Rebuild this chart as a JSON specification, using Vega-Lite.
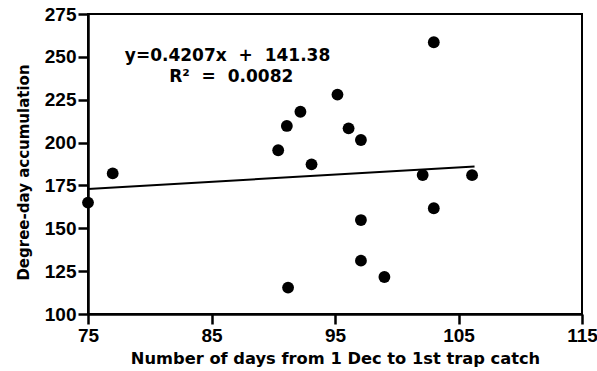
{
  "$schema": "https://vega.github.io/schema/vega-lite/v6.json",
  "width": 494,
  "height": 300,
  "autosize": {"type": "none"},
  "padding": {"left": 88, "top": 14, "right": 15, "bottom": 57},
  "background": "white",
  "config": {
    "view": {"stroke": "black", "strokeWidth": 2},
    "font": "DejaVu Sans",
    "axis": {
      "domainColor": "black", "domainWidth": 2.5, "tickColor": "black", "tickWidth": 2.5, "tickSize": 10,
      "labelFont": "Liberation Sans", "labelFontWeight": "bold", "labelFontSize": 19, "labelColor": "black",
      "titleFont": "DejaVu Sans", "titleFontWeight": "bold", "titleFontSize": 15, "titleColor": "black",
      "grid": false, "labelFlush": false
    }
  },
  "datasets": {
    "points": [
      {"days": 75, "dd": 165},
      {"days": 77, "dd": 182},
      {"days": 90.4, "dd": 195.5},
      {"days": 91.1, "dd": 209.7},
      {"days": 92.2, "dd": 218},
      {"days": 93.1, "dd": 187.3},
      {"days": 95.2, "dd": 228},
      {"days": 96.1, "dd": 208.3},
      {"days": 97.1, "dd": 201.5},
      {"days": 103, "dd": 258.5},
      {"days": 102.1, "dd": 181.1},
      {"days": 106.1, "dd": 181},
      {"days": 103, "dd": 161.7},
      {"days": 97.1, "dd": 154.8},
      {"days": 97.1, "dd": 131.1},
      {"days": 99, "dd": 121.6},
      {"days": 91.2, "dd": 115.4}
    ],
    "fit": [
      {"days": 75, "dd": 172.93},
      {"days": 106.3, "dd": 186.1}
    ]
  },
  "layer": [
    {
      "data": {"name": "fit"},
      "mark": {"type": "line", "color": "black", "strokeWidth": 2},
      "encoding": {
        "x": {"field": "days", "type": "quantitative", "scale": {"domain": [75, 115], "nice": false, "zero": false},
          "axis": {"values": [75, 85, 95, 105, 115], "title": "Number of days from 1 Dec to 1st trap catch", "titleFontSize": 16.3, "labelPadding": 2, "titlePadding": 5}},
        "y": {"field": "dd", "type": "quantitative", "scale": {"domain": [100, 275], "nice": false, "zero": false},
          "axis": {"values": [100, 125, 150, 175, 200, 225, 250, 275], "title": "Degree-day accumulation", "labelPadding": 2, "titlePadding": 13, "titleY": 158}}
      }
    },
    {
      "data": {"name": "points"},
      "mark": {"type": "circle", "color": "black", "opacity": 1, "size": 140},
      "encoding": {
        "x": {"field": "days", "type": "quantitative"},
        "y": {"field": "dd", "type": "quantitative"}
      }
    },
    {
      "data": {"values": [{"label": "y=0.4207x\u00a0 + \u00a0141.38"}]},
      "mark": {"type": "text", "font": "DejaVu Sans", "fontSize": 17, "fontWeight": "bold", "color": "black", "align": "center", "baseline": "alphabetic"},
      "encoding": {
        "x": {"datum": 86.3, "type": "quantitative"},
        "y": {"datum": 247.8, "type": "quantitative"},
        "text": {"field": "label"}
      }
    },
    {
      "data": {"values": [{"label": "R²\u00a0 = \u00a00.0082"}]},
      "mark": {"type": "text", "font": "DejaVu Sans", "fontSize": 17, "fontWeight": "bold", "color": "black", "align": "center", "baseline": "alphabetic"},
      "encoding": {
        "x": {"datum": 86.6, "type": "quantitative"},
        "y": {"datum": 235.3, "type": "quantitative"},
        "text": {"field": "label"}
      }
    }
  ]
}
